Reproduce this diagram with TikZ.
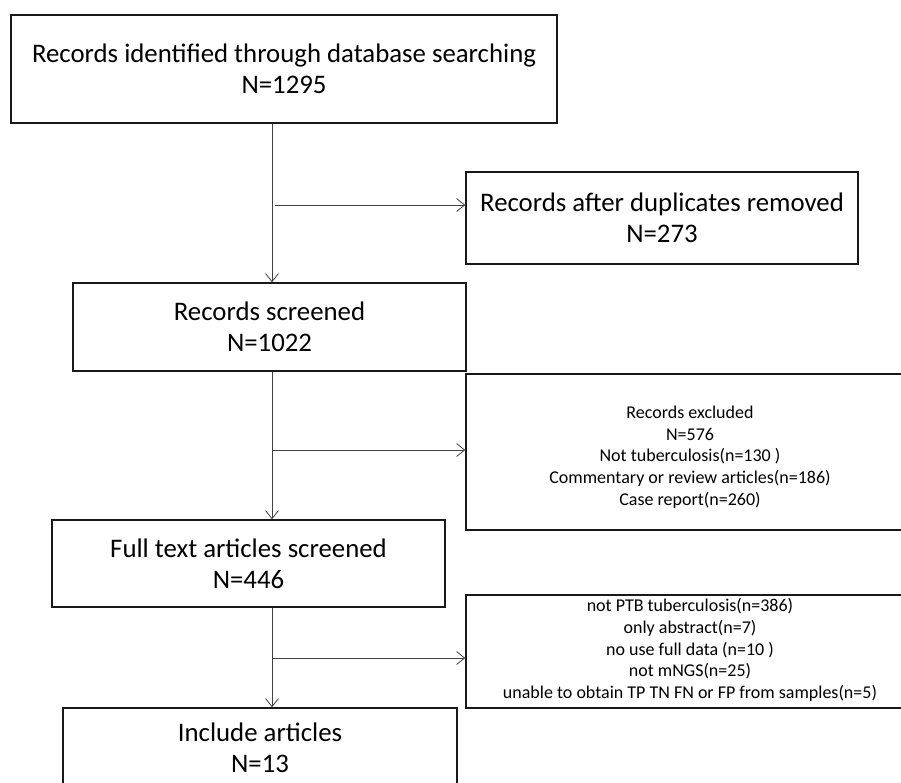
\documentclass[tikz,border=0pt]{standalone}
\usepackage{fontspec}
\setmainfont{Carlito}
\usetikzlibrary{arrows.meta}
\tikzset{
  every picture/.style={
    x=1pt, y=-1pt,
    >={Straight Barb[length=8pt, width=13pt]}
  },
  bigbox/.style={
    draw=black!90, line width=1.6pt, align=center,
    font=\fontsize{26.8}{31}\selectfont
  },
  smallbox/.style={
    draw=black!90, line width=1.6pt
  },
  smalltext/.style={
    align=center, font=\fontsize{18}{21.7}\selectfont
  },
  flow/.style={
    ->, draw=black!75, line width=0.8pt
  }
}

\begin{document}
\begin{tikzpicture}
      \clip (0,0) rectangle (901,782);
      \fill[white] (0,0) rectangle (901,782);
      % left column
      \node[bigbox, minimum width=546pt, minimum height=108pt] (ident) at (284,69)
        {Records identified through database searching\\N=1295};
      \node[bigbox, minimum width=393pt, minimum height=88pt] (screen) at (269.5,327)
        {Records screened\\N=1022};
      \node[bigbox, minimum width=393pt, minimum height=87pt] (full) at (248.5,563.5)
        {Full text articles screened\\N=446};
      \node[bigbox, minimum width=394pt, minimum height=80pt] (incl) at (260,748)
        {Include articles\\N=13};
      % right column
      \node[bigbox, minimum width=392pt, minimum height=92pt] (dup) at (662,218)
        {Records after duplicates removed\\N=273};
      \node[smallbox, minimum width=448pt, minimum height=156pt] (excl) at (690,452) {};
      \node[smalltext] (excltext) at (690,457)
        {Records excluded\\N=576\\Not tuberculosis(n=130 )\\Commentary or review articles(n=186)\\Case report(n=260)};
      \node[smallbox, minimum width=448pt, minimum height=113pt] (notptb) at (690,651.5) {};
      \node[smalltext] (notptbtext) at (690,650)
        {not PTB tuberculosis(n=386)\\only abstract(n=7)\\no use full data (n=10 )\\not mNGS(n=25)\\unable to obtain TP TN FN or FP from samples(n=5)};
      % arrows
      \coordinate (trunk) at (272,0);
      \draw[flow] (ident.south -| trunk) -- (screen.north -| trunk);
      \draw[flow] (screen.south -| trunk) -- (full.north -| trunk);
      \draw[flow] (full.south -| trunk) -- (incl.north -| trunk);
      \coordinate (b1) at (275,205);
      \coordinate (b2) at (273,450);
      \coordinate (b3) at (273,658);
      \draw[flow] (b1) -- (b1 -| dup.west);
      \draw[flow] (b2) -- (b2 -| excl.west);
      \draw[flow] (b3) -- (b3 -| notptb.west);
\end{tikzpicture}
\end{document}
